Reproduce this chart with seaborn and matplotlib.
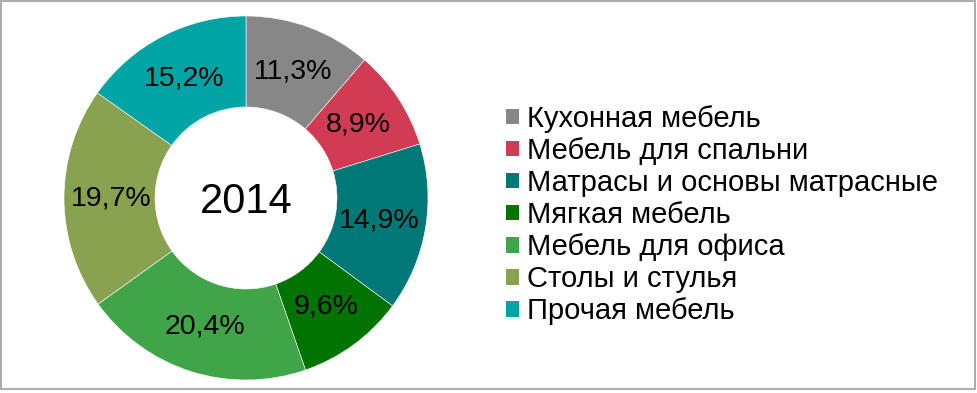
import matplotlib
matplotlib.use("Agg")
import matplotlib.pyplot as plt
import matplotlib.patches as mpatches
import seaborn as sns

# shares of furniture market, 2014 (%)
categories = ["Кухонная мебель", "Мебель для спальни", "Матрасы и основы матрасные",
              "Мягкая мебель", "Мебель для офиса", "Столы и стулья", "Прочая мебель"]
shares = [11.3, 8.9, 14.9, 9.6, 20.4, 19.7, 15.2]
colors = ["#878787", "#D13B53", "#007878", "#007300", "#40A548", "#88A24F", "#00A4A4"]
center_label = "2014"

sns.set_style("white")
plt.rcParams["font.family"] = ["Liberation Sans", "DejaVu Sans"]
plt.rcParams["text.color"] = "black"

W, H = 977, 393
fig = plt.figure(figsize=(W / 100, H / 100), dpi=100)

cx, cy, r = 246, 198, 182
ax = fig.add_axes([(cx - r) / W, (H - cy - r) / H, 2 * r / W, 2 * r / H])

wedges, texts, autotexts = ax.pie(
    shares, colors=colors, startangle=90, counterclock=False,
    radius=1, autopct=lambda p: f"{p:.1f}%".replace(".", ","), pctdistance=0.74,
    wedgeprops=dict(width=0.5, edgecolor="white", linewidth=0.4),
    textprops=dict(fontsize=20.5, color="black"))
ax.set_xlim(-1, 1)
ax.set_ylim(-1, 1)
ax.axis("off")
ax.text(0, -0.02, center_label, ha="center", va="center", fontsize=30, color="black")

handles = [mpatches.Patch(facecolor=c, edgecolor="none") for c in colors]
fig.legend(handles, categories, loc="center left",
           bbox_to_anchor=(506 / W, (H - 215) / H), frameon=False,
           fontsize=21, handlelength=0.45, handleheight=0.45,
           handletextpad=0.28, labelspacing=0.14, borderpad=0, borderaxespad=0,
           labelcolor="black")

# outer frame of the chart area
fig.patches.append(mpatches.Rectangle((1 / W, 4 / H), (W - 3) / W, (H - 5) / H,
                                      transform=fig.transFigure, fill=False,
                                      edgecolor="#ADADAD", linewidth=1.5))

fig.savefig("out.png", dpi=100)
